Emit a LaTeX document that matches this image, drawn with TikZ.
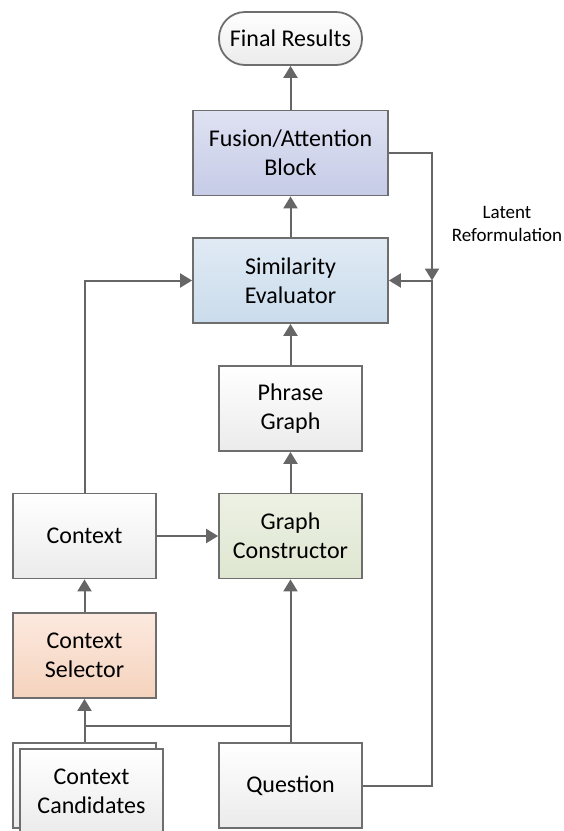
\documentclass[tikz,border=0pt]{standalone}
\usepackage{fontspec}
\setmainfont{Carlito}
\usetikzlibrary{arrows.meta}
\definecolor{edge}{HTML}{6E6E6E}
\definecolor{arr}{HTML}{666666}
\definecolor{fusT}{HTML}{DFE2F2}
\definecolor{fusB}{HTML}{C6CBE7}
\definecolor{simT}{HTML}{E0EAF4}
\definecolor{simB}{HTML}{CADCEC}
\definecolor{grT}{HTML}{EDF1E4}
\definecolor{grB}{HTML}{DEE6D0}
\definecolor{selT}{HTML}{FCE9DF}
\definecolor{selB}{HTML}{F5D3BD}
\definecolor{whT}{HTML}{FFFFFF}
\definecolor{whB}{HTML}{EBEBEB}
\tikzset{
  box/.style={draw=edge, line width=1.8pt, align=center, inner sep=0pt,
    minimum width=143pt, minimum height=85pt, font=\fontsize{24}{29}\selectfont,
    top color=whT, bottom color=whB},
  widebox/.style={box, minimum width=195pt},
  conn/.style={draw=arr, line width=2pt, -{Triangle[length=12pt,width=14pt]}},
  plain/.style={draw=arr, line width=2pt},
}
\begin{document}
\begin{tikzpicture}[x=1pt,y=-1pt]
\useasboundingbox (0,0) rectangle (563,831);
\node[box, minimum height=53pt, rounded corners=26pt] (final) at (290.5,38.5) {Final Results};
\node[widebox, top color=fusT, bottom color=fusB] (fusion) at (290.5,153) {Fusion/Attention\\Block};
\node[widebox, top color=simT, bottom color=simB] (sim) at (290.5,280.5) {Similarity\\Evaluator};
\node[box] (phrase) at (290.5,408.5) {Phrase\\Graph};
\node[box, top color=grT, bottom color=grB] (graph) at (290.5,536) {Graph\\Constructor};
\node[box] (context) at (84.5,536) {Context};
\node[box, top color=selT, bottom color=selB] (selector) at (84.5,655.5) {Context\\Selector};
\node[box] (candback) at (84.5,785.5) {};
\node[box] (cand) at (91.5,791.5) {Context\\Candidates};
\node[box] (question) at (290.5,785.5) {Question};
\node[align=center, font=\fontsize{19}{23}\selectfont] (latent) at (507,224) {Latent\\Reformulation};

\coordinate (fr) at (432,153);
\coordinate (merge) at (432,280.5);
\coordinate (qr) at (432,785.5);
\coordinate (junc) at (290.5,726);
\coordinate (jleft) at (84.5,726);
\coordinate (cup) at (84.5,280.5);

\draw[conn] (final.north |- fusion.north) -- (final.south);
\draw[conn] (sim.north) -- (fusion.south);
\draw[conn] (phrase.north) -- (sim.south);
\draw[conn] (graph.north) -- (phrase.south);
\draw[conn] (context.east) -- (graph.west);
\draw[conn] (context.north) -- (cup) -- (sim.west);
\draw[conn] (selector.north) -- (context.south);
\draw[conn] (question.north) -- (graph.south);
\draw[plain] (junc) -- (jleft);
\draw[conn] (candback.north) -- (selector.south);
\draw[conn] (fusion.east) -- (fr) -- (merge);
\draw[conn] (question.east) -- (qr) -- (merge) -- (sim.east);
\end{tikzpicture}
\end{document}
